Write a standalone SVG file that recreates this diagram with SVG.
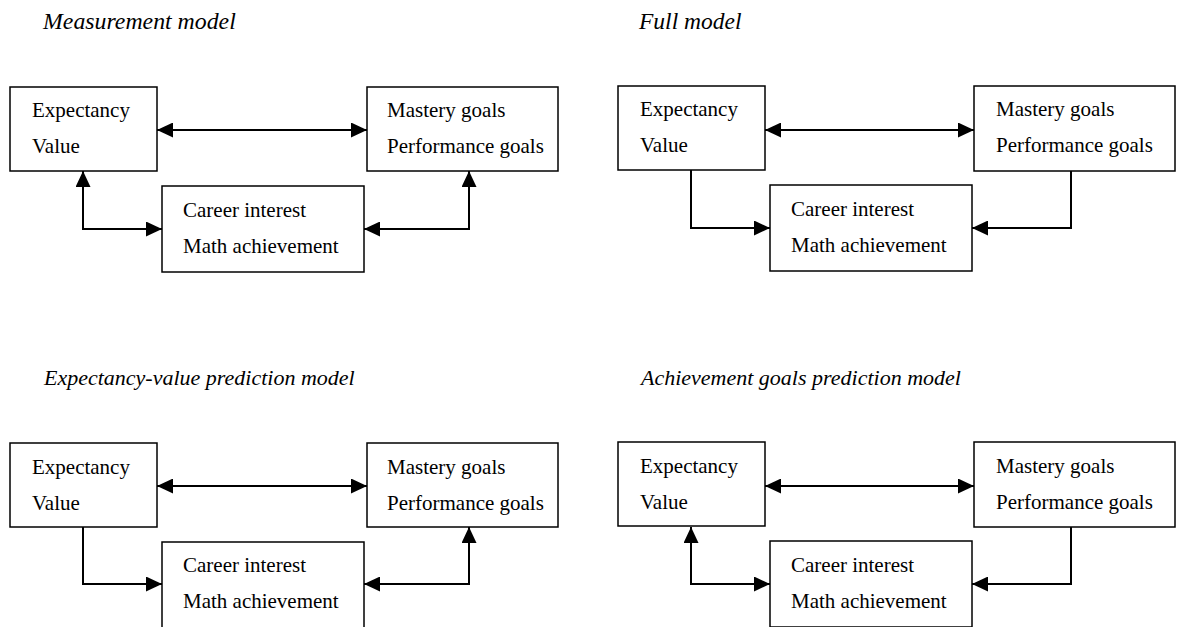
<svg xmlns="http://www.w3.org/2000/svg" width="1177" height="627" viewBox="0 0 1177 627">
<style>
  .box{fill:#fff;stroke:#000;stroke-width:1.5}
  .c{fill:none;stroke:#000;stroke-width:2}
  .both{marker-start:url(#ah);marker-end:url(#ah)}
  .end{marker-end:url(#ah)}
</style>
<defs>
  <marker id="ah" markerUnits="userSpaceOnUse" markerWidth="16" markerHeight="15" refX="16" refY="7.5" orient="auto-start-reverse" viewBox="0 0 16 15">
    <path d="M0,0 L16,7.5 L0,15 z" fill="#000"/>
  </marker>
</defs>
<rect width="1177" height="627" fill="#fff"/>

<g id="titles" font-family="Liberation Serif, Times New Roman, Times, serif" font-style="italic" fill="#000">
  <text x="43" y="29" font-size="23.8">Measurement model</text>
  <text x="639" y="29" font-size="23.5">Full model</text>
  <text x="44" y="385" font-size="22">Expectancy-value prediction model</text>
  <text x="641" y="385" font-size="22">Achievement goals prediction model</text>
</g>

<g id="connectors">
  <line class="c both" x1="157" y1="130" x2="367" y2="130"/>
  <path class="c both" d="M83,171 V229 H162"/>
  <path class="c both" d="M469,171 V229 H364"/>
  <line class="c both" x1="765" y1="130" x2="974" y2="130"/>
  <path class="c end" d="M691,170 V228 H770"/>
  <path class="c end" d="M1071,171 V228 H972"/>
  <line class="c both" x1="157" y1="486" x2="367" y2="486"/>
  <path class="c end" d="M83,527 V584 H162"/>
  <path class="c both" d="M469,527 V584 H364"/>
  <line class="c both" x1="765" y1="486" x2="974" y2="486"/>
  <path class="c both" d="M691,527 V584 H770"/>
  <path class="c end" d="M1071,527 V584 H972"/>
</g>

<g id="nodes" font-family="Liberation Serif, Times New Roman, Times, serif" font-size="21" fill="#000">
<g id="m-expectancy">
  <rect class="box" x="10" y="87" width="147" height="84"/>
  <text x="32" y="117">Expectancy</text>
  <text x="32" y="153">Value</text>
</g>
<g id="m-goals">
  <rect class="box" x="367" y="87" width="191" height="84"/>
  <text x="387" y="117">Mastery goals</text>
  <text x="387" y="153">Performance goals</text>
</g>
<g id="m-career">
  <rect class="box" x="162" y="186" width="202" height="86"/>
  <text x="183" y="217">Career interest</text>
  <text x="183" y="253">Math achievement</text>
</g>
<g id="f-expectancy">
  <rect class="box" x="618" y="86" width="147" height="84"/>
  <text x="640" y="116">Expectancy</text>
  <text x="640" y="152">Value</text>
</g>
<g id="f-goals">
  <rect class="box" x="974" y="86" width="201" height="85"/>
  <text x="996" y="116">Mastery goals</text>
  <text x="996" y="152">Performance goals</text>
</g>
<g id="f-career">
  <rect class="box" x="770" y="185" width="202" height="86"/>
  <text x="791" y="216">Career interest</text>
  <text x="791" y="252">Math achievement</text>
</g>
<g id="ev-expectancy">
  <rect class="box" x="10" y="443" width="147" height="84"/>
  <text x="32" y="474">Expectancy</text>
  <text x="32" y="510">Value</text>
</g>
<g id="ev-goals">
  <rect class="box" x="367" y="443" width="191" height="84"/>
  <text x="387" y="474">Mastery goals</text>
  <text x="387" y="510">Performance goals</text>
</g>
<g id="ev-career">
  <rect class="box" x="162" y="542" width="202" height="86"/>
  <text x="183" y="572">Career interest</text>
  <text x="183" y="608">Math achievement</text>
</g>
<g id="ag-expectancy">
  <rect class="box" x="618" y="442" width="147" height="84"/>
  <text x="640" y="473">Expectancy</text>
  <text x="640" y="509">Value</text>
</g>
<g id="ag-goals">
  <rect class="box" x="974" y="442" width="201" height="85"/>
  <text x="996" y="473">Mastery goals</text>
  <text x="996" y="509">Performance goals</text>
</g>
<g id="ag-career">
  <rect class="box" x="770" y="541" width="202" height="86"/>
  <text x="791" y="572">Career interest</text>
  <text x="791" y="608">Math achievement</text>
</g>
</g>
</svg>
